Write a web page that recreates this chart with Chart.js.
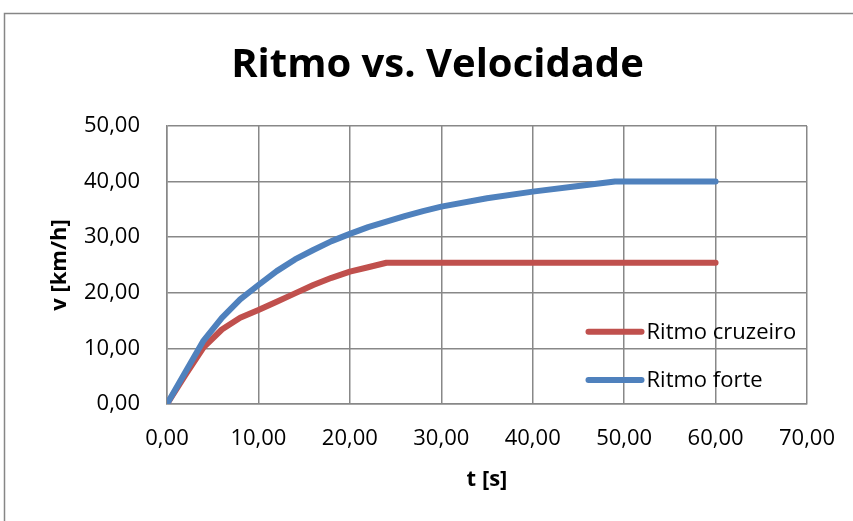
<!DOCTYPE html>
<html>
<head>
<meta charset="utf-8">
<script src="https://cdn.jsdelivr.net/npm/chart.js@4/dist/chart.umd.min.js"></script>
<style>
  html, body { margin: 0; padding: 0; background: #ffffff; }
  #wrap { width: 853px; height: 521px; position: relative; }
</style>
</head>
<body>
<div id="wrap"><canvas id="c" width="853" height="521"></canvas></div>
<script>
// ---- Data ----
const chartTitle = 'Ritmo vs. Velocidade';
const xAxisTitle = 't [s]';
const yAxisTitle = 'v [km/h]';
const seriesNames = ['Ritmo cruzeiro', 'Ritmo forte'];

const tempoCruzeiro = [0, 2, 4, 6, 8, 10, 12, 14, 16, 18, 20, 22, 24, 30, 40, 50, 60];
const velCruzeiro   = [0, 5.2, 10.2, 13.4, 15.5, 16.9, 18.4, 19.9, 21.4, 22.7, 23.8, 24.6, 25.4, 25.4, 25.4, 25.4, 25.4];

const tempoForte = [0, 2, 4, 6, 8, 10, 12, 14, 16, 18, 20, 22, 24, 26, 28, 30, 35, 40, 45, 49, 60];
const velForte   = [0, 5.7, 11.4, 15.5, 18.8, 21.4, 23.9, 26.0, 27.7, 29.3, 30.6, 31.8, 32.8, 33.8, 34.7, 35.5, 37.0, 38.2, 39.2, 40.0, 40.0];

const xTickLabels = ['0,00', '10,00', '20,00', '30,00', '40,00', '50,00', '60,00', '70,00'];
const yTickLabels = ['0,00', '10,00', '20,00', '30,00', '40,00', '50,00'];

// ---- Build library structures ----
const toPoints = (xs, ys) => xs.map((x, i) => ({ x: x, y: ys[i] }));
const RED = '#C0504D';
const BLUE = '#4F81BD';
const GRID = '#888888';
const FONT = "'Open Sans', 'DejaVu Sans', sans-serif";

const framePlugin = {
  id: 'frame',
  beforeDraw(chart) {
    const ctx = chart.ctx;
    ctx.save();
    ctx.fillStyle = '#ffffff';
    ctx.fillRect(0, 0, chart.width, chart.height);
    ctx.strokeStyle = '#868686';
    ctx.lineWidth = 1.5;
    ctx.strokeRect(4.5, 13.5, chart.width + 50, chart.height + 50);
    ctx.restore();
  }
};

const legendPlugin = {
  id: 'insideLegend',
  afterDatasetsDraw(chart) {
    const ctx = chart.ctx;
    const xs = chart.scales.x;
    const ys = chart.scales.y;
    ctx.save();
    const x0 = xs.getPixelForValue(46.1);
    const x1 = xs.getPixelForValue(51.9);
    const tx = x1 + 5;
    const rows = [ys.getPixelForValue(13.0), ys.getPixelForValue(4.3)];
    chart.data.datasets.forEach((ds, i) => {
      const y = rows[i];
      ctx.strokeStyle = ds.borderColor;
      ctx.lineWidth = 6;
      ctx.lineCap = 'round';
      ctx.beginPath();
      ctx.moveTo(x0, y);
      ctx.lineTo(x1, y);
      ctx.stroke();
      ctx.fillStyle = '#000000';
      ctx.font = "22px " + FONT;
      ctx.textBaseline = 'middle';
      ctx.textAlign = 'left';
      ctx.fillText(ds.label, tx, y + 1);
    });
    ctx.restore();
  }
};

new Chart(document.getElementById('c'), {
  type: 'line',
  data: {
    datasets: [
      {
        label: seriesNames[0],
        data: toPoints(tempoCruzeiro, velCruzeiro),
        borderColor: RED,
        backgroundColor: RED,
        borderWidth: 6,
        borderCapStyle: 'round',
        borderJoinStyle: 'round',
        pointRadius: 0,
        tension: 0,
        fill: false,
        order: 1
      },
      {
        label: seriesNames[1],
        data: toPoints(tempoForte, velForte),
        borderColor: BLUE,
        backgroundColor: BLUE,
        borderWidth: 6,
        borderCapStyle: 'round',
        borderJoinStyle: 'round',
        pointRadius: 0,
        tension: 0,
        fill: false,
        order: 0
      }
    ]
  },
  options: {
    responsive: false,
    animation: false,
    devicePixelRatio: 1,
    layout: { padding: { left: 22, right: 0, top: 0, bottom: 0 } },
    plugins: {
      legend: { display: false },
      tooltip: { enabled: false },
      title: {
        display: true,
        text: chartTitle,
        color: '#000000',
        font: { family: FONT, size: 40, weight: 'bold' },
        padding: { top: 42, bottom: 36 }
      }
    },
    scales: {
      x: {
        type: 'linear',
        min: 0,
        max: 70,
        afterFit(scale) { scale.height = 117; },
        ticks: {
          stepSize: 10,
          padding: 14,
          color: '#000000',
          font: { family: FONT, size: 22, lineHeight: 1.92 },
          callback: (v, i) => xTickLabels[i]
        },
        grid: { color: GRID, lineWidth: 1.5, drawTicks: false },
        border: { color: GRID, width: 1.5 },
        title: {
          display: true,
          text: xAxisTitle,
          color: '#000000',
          font: { family: FONT, size: 22, weight: 'bold' },
          padding: { top: 0, bottom: 28 }
        }
      },
      y: {
        type: 'linear',
        min: 0,
        max: 50,
        afterFit(scale) { scale.width = 145; },
        ticks: {
          stepSize: 10,
          padding: 27,
          color: '#000000',
          font: { family: FONT, size: 22 },
          callback: (v, i) => yTickLabels[i]
        },
        grid: { color: GRID, lineWidth: 1.5, drawTicks: false },
        border: { color: GRID, width: 1.5 },
        title: {
          display: true,
          text: yAxisTitle,
          color: '#000000',
          font: { family: FONT, size: 22, weight: 'bold' },
          padding: { top: 25, bottom: 0 }
        }
      },
      yRight: {
        type: 'linear',
        position: 'right',
        min: 0,
        max: 50,
        display: true,
        afterFit(scale) { scale.width = 46; },
        ticks: { display: false },
        grid: { display: false, drawOnChartArea: false, drawTicks: false },
        border: { display: false }
      }
    }
  },
  plugins: [framePlugin, legendPlugin]
});
</script>
</body>
</html>
